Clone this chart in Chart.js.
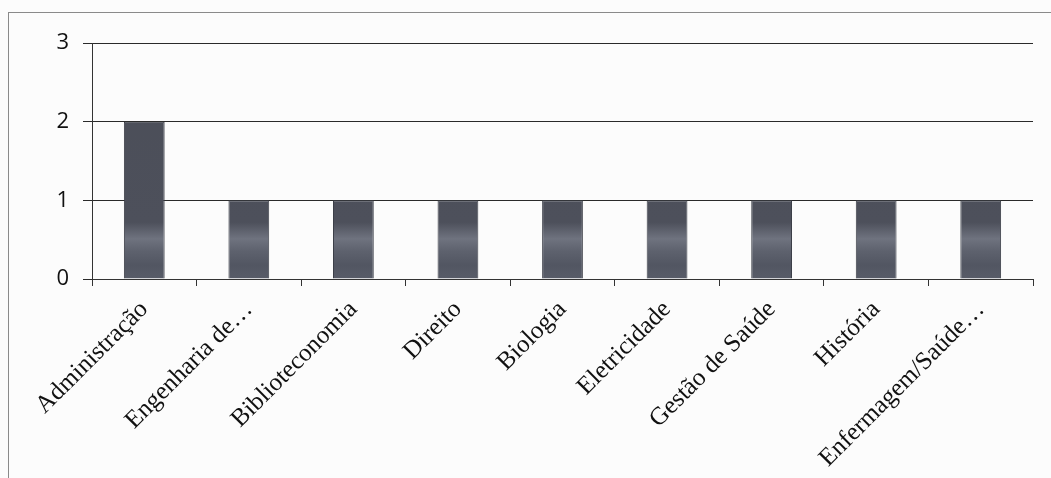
<!DOCTYPE html>
<html>
<head>
<meta charset="utf-8">
<script src="https://cdn.jsdelivr.net/npm/chart.js@4"></script>
<style>
    html, body { margin: 0; padding: 0; background: #fcfcfc; }
    #wrap { position: relative; width: 1051px; height: 478px; overflow: hidden; }
    #frame { position: absolute; left: 8px; top: 12px; width: 1100px; height: 500px; border: 1px solid #8a8a8a; }
    canvas { position: absolute; left: 0; top: 0; }
</style>
</head>
<body>
<div id="wrap">
    <div id="frame"></div>
    <canvas id="myChart" width="1051" height="478"></canvas>
</div>
<script>
const cursos = ['Administração', 'Engenharia de…', 'Biblioteconomia', 'Direito', 'Biologia', 'Eletricidade', 'Gestão de Saúde', 'História', 'Enfermagem/Saúde…']
const quantidade = [2, 1, 1, 1, 1, 1, 1, 1, 1]
const yTicks = [0, 1, 2, 3]

// gradient as in the scanned bars: dark with a lighter band near the bottom
const barFill = (context) => {
    const { ctx, chartArea } = context.chart
    if (!chartArea) return '#50535d'
    const g = ctx.createLinearGradient(0, chartArea.top, 0, chartArea.bottom)
    g.addColorStop(0, '#4b4e58')
    g.addColorStop(0.76, '#4d505b')
    g.addColorStop(0.83, '#6f737f')
    g.addColorStop(0.88, '#5e626e')
    g.addColorStop(0.94, '#525662')
    g.addColorStop(1, '#585c68')
    return g
}

const ctx = document.getElementById('myChart').getContext('2d')
new Chart(ctx, {
    type: 'bar',
    data: {
        labels: cursos,
        datasets: [{
            data: quantidade,
            backgroundColor: barFill,
            borderColor: '#3c3f48',
            borderWidth: 1,
            categoryPercentage: 1,
            barPercentage: 0.39
        }]
    },
    options: {
        responsive: false,
        animation: false,
        layout: { padding: { top: 43, right: 18, left: 30, bottom: 0 } },
        plugins: { legend: { display: false }, tooltip: { enabled: false } },
        scales: {
            x: {
                grid: { offset: true, drawOnChartArea: false, tickLength: 7, color: '#333' },
                border: { color: '#333', width: 1 },
                ticks: {
                    minRotation: 45,
                    maxRotation: 45,
                    autoSkip: false,
                    color: '#111',
                    padding: 9,
                    font: { family: '"Liberation Serif", "DejaVu Serif", serif', size: 25 }
                },
                afterFit: (scale) => { scale.height = 199 }
            },
            y: {
                min: 0,
                max: 3,
                afterBuildTicks: (scale) => { scale.ticks = yTicks.map(v => ({ value: v })) },
                grid: { color: '#2a2a2a', tickLength: 9 },
                border: { color: '#333', width: 1 },
                ticks: {
                    color: '#111',
                    padding: 14,
                    font: { family: '"Open Sans", "Noto Sans", sans-serif', size: 22 }
                },
                afterFit: (scale) => { scale.width = 62 }
            }
        }
    }
})
</script>
</body>
</html>
